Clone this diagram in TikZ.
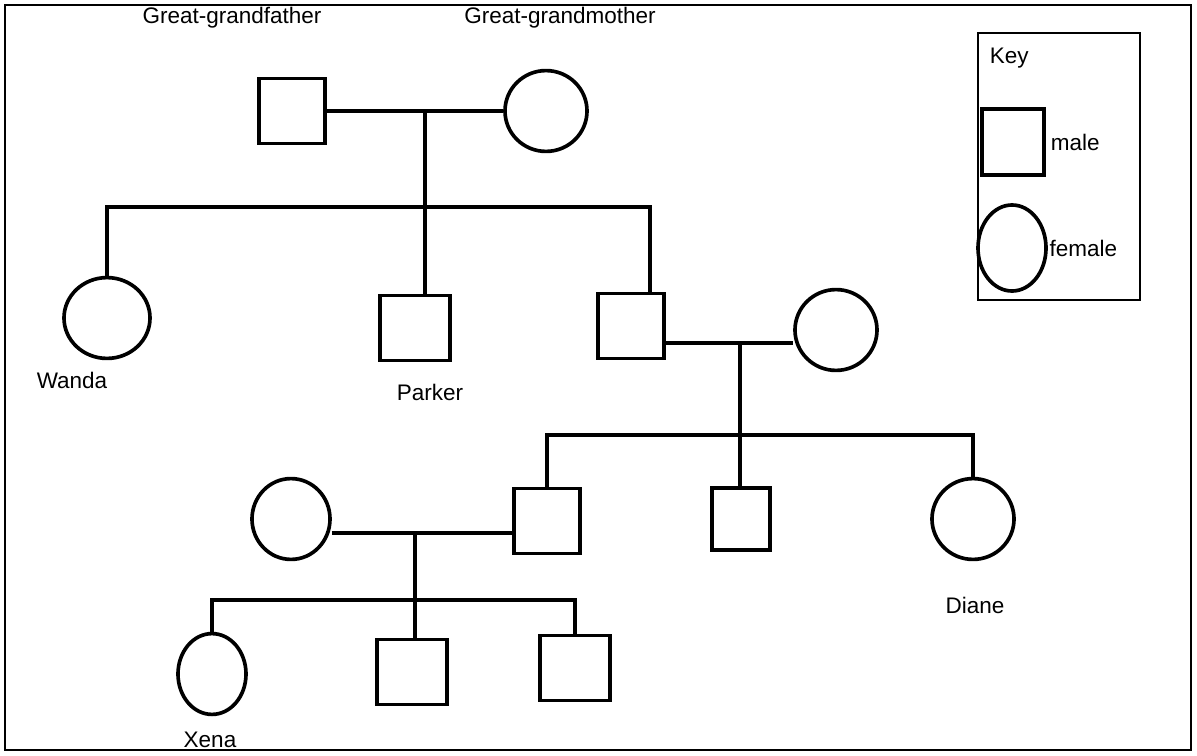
\documentclass[tikz,border=0pt]{standalone}
\usepackage{fontspec}
\setmainfont{Liberation Sans}
\usetikzlibrary{shapes.geometric}

\tikzset{
	male/.style={draw, rectangle, line width=2.6pt, inner sep=0pt, minimum width=1.65cm, minimum height=1.62cm},
	female/.style={draw, ellipse, line width=2.6pt, inner sep=0pt, minimum width=2.05cm, minimum height=2.02cm},
	tie/.style={line width=2.6pt},
	lbl/.style={font=\fontsize{16}{18}\selectfont},
}

\begin{document}
\begin{tikzpicture}[x=0.025cm, y=-0.025cm]
	\useasboundingbox (0,0) rectangle (1197,756);
	\draw[line width=1.5pt] (5,5) rectangle (1191,750);

%	\coordinate (    ) at (x px, y px);
	\coordinate (m0) at (425,112);
	\coordinate (s0) at (425,207);
	\coordinate (r0) at (650,207);
	\coordinate (m1) at (740,343);
	\coordinate (s1) at (740,435);
	\coordinate (m2) at (415,533);
	\coordinate (s2) at (415,600);

	\node[male]   (ggf)    at (292,111) {};
	\node[female] (ggm)    at (546,111) {};
	\node[female, minimum width=2.15cm] (wanda)  at (107,318) {};
	\node[male, minimum width=1.75cm]   (parker) at (415,328) {};
	\node[male]   (gf)     at (631,326) {};
	\node[female] (gm)     at (836,330) {};
	\node[male]   (dad)    at (547,521) {};
	\node[male, minimum width=1.45cm, minimum height=1.55cm] (uncle) at (741,519) {};
	\node[female] (diane)  at (973,519) {};
	\node[female, minimum width=1.95cm] (mom) at (291,519) {};
	\node[female, minimum width=1.7cm]  (xena)  at (212,674) {};
	\node[male, minimum width=1.75cm]   (bro1)  at (412,672) {};
	\node[male, minimum width=1.75cm]   (bro2)  at (575,668) {};

	\node[lbl] at (232,18) {Great-grandfather};
	\node[lbl] at (560,18) {Great-grandmother};
	\node[lbl] at (72,380)  {Wanda};
	\node[lbl] at (430,392) {Parker};
	\node[lbl] at (975,605) {Diane};
	\node[lbl] at (210,740) {Xena};

	\draw[tie] (ggf) -- (ggm);
	\draw[tie] (m0) -- (s0);
	\draw[tie] (wanda.north) |- (s0) -- (r0) -- (r0 |- gf.north);
	\draw[tie] (s0) -- (s0 |- parker.north);

	\draw[tie] (m1 -| gf.east) -- (m1 -| gm.west);
	\draw[tie] (m1) -- (s1);
	\draw[tie] (dad.north) |- (s1) -| (diane.north);
	\draw[tie] (s1) -- (s1 |- uncle.north);

	\draw[tie] (m2 -| mom.east) -- (m2 -| dad.west);
	\draw[tie] (m2) -- (s2);
	\draw[tie] (xena.north) |- (s2) -| (bro2.north);
	\draw[tie] (s2) -- (s2 |- bro1.north);

	% key
	\draw[line width=1.5pt] (978,33) rectangle (1140,300);
	\node[lbl, anchor=west] at (985,58) {Key};
	\node[male, minimum width=1.55cm, minimum height=1.65cm] (kmale) at (1013,142) {};
	\node[female, minimum width=1.7cm, minimum height=2.15cm] (kfemale) at (1012,248) {};
	\node[lbl, anchor=west] at (kmale.east) {male};
	\node[lbl, anchor=west, inner sep=1pt] at (kfemale.east) {female};
\end{tikzpicture}
\end{document}
